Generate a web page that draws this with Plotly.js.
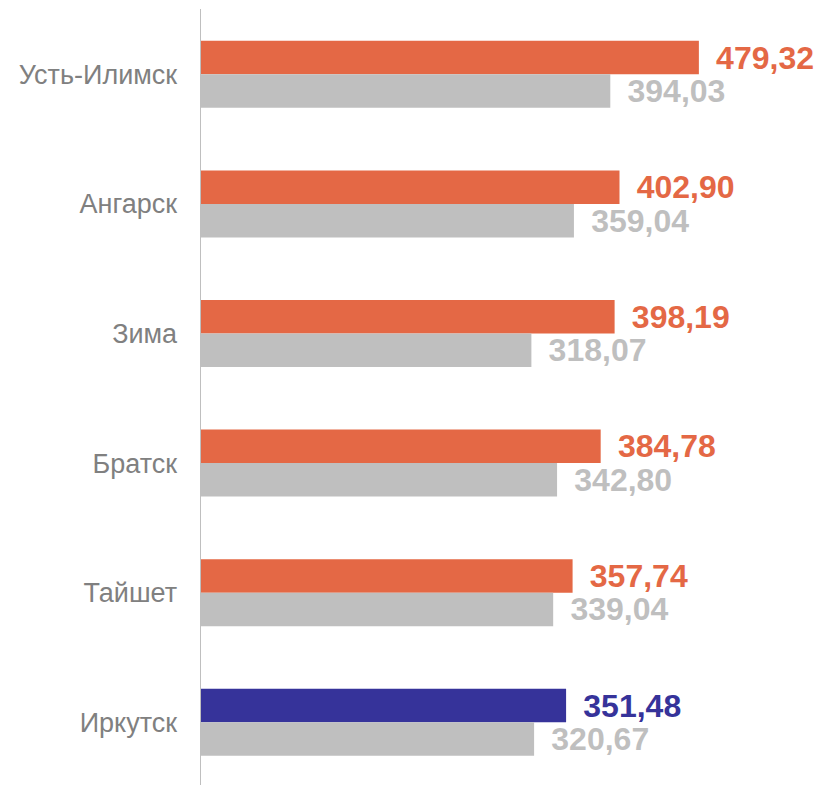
<!DOCTYPE html>
<html>
<head>
<meta charset="utf-8">
<script src="https://cdn.plot.ly/plotly-3.0.1.min.js"></script>
<style>html,body{margin:0;padding:0;background:#fff;}#chart{width:818px;height:785px;}</style>
</head>
<body>
<div id="chart"></div>
<script>
var cities = ['Усть-Илимск', 'Ангарск', 'Зима', 'Братск', 'Тайшет', 'Иркутск'];
var current = [479.32, 402.90, 398.19, 384.78, 357.74, 351.48];
var previous = [394.03, 359.04, 318.07, 342.80, 339.04, 320.67];
var highlightCity = 'Иркутск';

var ORANGE = '#E46845';
var BLUE = '#36339A';
var GRAY = '#BFBFBF';
var curColors = cities.map(function (c) { return c === highlightCity ? BLUE : ORANGE; });
var FONT = 'Liberation Sans, Arial, sans-serif';
var LABEL = '\u2006 %{x:.2f}';

var traces = [
  {
    type: 'bar', orientation: 'h', y: cities, x: current,
    marker: {color: curColors},
    texttemplate: LABEL, textposition: 'outside', cliponaxis: false,
    constraintext: 'none',
    textfont: {family: FONT, size: 32, color: curColors, weight: 'bold'},
    hoverinfo: 'none'
  },
  {
    type: 'bar', orientation: 'h', y: cities, x: previous,
    marker: {color: GRAY},
    texttemplate: LABEL, textposition: 'outside', cliponaxis: false,
    constraintext: 'none',
    textfont: {family: FONT, size: 32, color: GRAY, weight: 'bold'},
    hoverinfo: 'none'
  }
];

var layout = {
  width: 818, height: 785,
  margin: {l: 201, r: 0, t: 9, b: 0, pad: 0},
  paper_bgcolor: '#fff', plot_bgcolor: '#fff',
  separators: ', ',
  showlegend: false,
  barmode: 'group', bargap: 0.483, bargroupgap: 0,
  xaxis: {range: [0, 594], visible: false, showgrid: false, zeroline: false, fixedrange: true},
  yaxis: {
    type: 'category', range: [5.484, -0.504],
    showline: true, linecolor: GRAY, linewidth: 1.5,
    showgrid: false, zeroline: false, ticks: '',
    ticklabelstandoff: 17,
    tickfont: {family: FONT, size: 27, color: '#808080'},
    fixedrange: true
  }
};

Plotly.newPlot('chart', traces, layout, {displayModeBar: false, staticPlot: true});
</script>
</body>
</html>
